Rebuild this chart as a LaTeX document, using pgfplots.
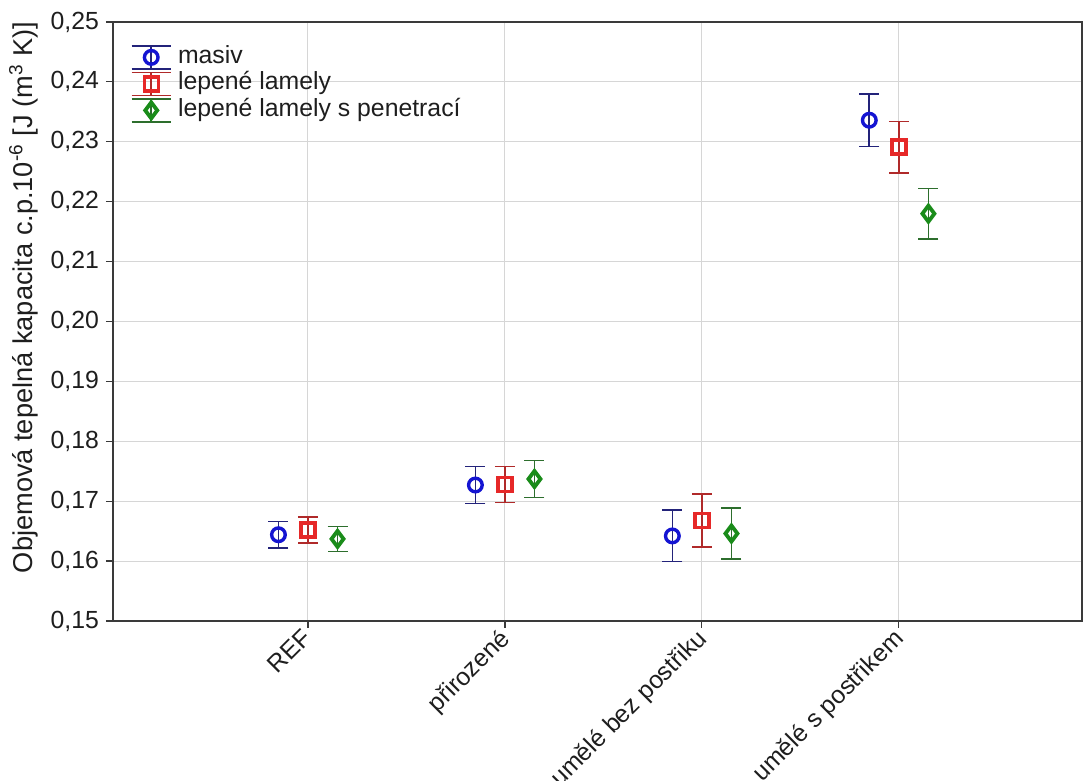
\documentclass[border=0pt]{standalone}
\usepackage{pgfplots}
\pgfplotsset{compat=1.18}
\usetikzlibrary{calc}
\usepackage{fontspec}
\setmainfont{Liberation Sans}
\definecolor{mblue}{HTML}{1414D2}
\definecolor{eblue}{HTML}{23237A}
\definecolor{mred}{HTML}{E62828}
\definecolor{ered}{HTML}{B02A2A}
\definecolor{mgreen}{HTML}{1A8C1A}
\definecolor{egreen}{HTML}{2D6E2D}
\definecolor{gridgray}{HTML}{D6D6D6}
\definecolor{axgray}{HTML}{3A3A3A}
\definecolor{txt}{HTML}{1E1E1E}
\pgfplotsset{
  errleg/.style={legend image code/.code={
     \draw[#1, line width=0.8pt] (0pt,-5.75pt) -- (0pt,5.75pt)
        (-9.75pt,5.75pt) -- (9.75pt,5.75pt)
        (-9.75pt,-5.75pt) -- (9.75pt,-5.75pt);
     \draw[##1] plot coordinates {(0pt,0pt)};
  }}
}
\begin{document}
\begin{tikzpicture}
\begin{axis}[name=ax, scale only axis, width=484.5pt, height=299.5pt,
  xmin=-0.99, xmax=3.93, ymin=0.15, ymax=0.25,
  xtick={0,1,2,3},
  xticklabels={REF, přirozené, umělé bez postřiku, umělé s postřikem},
  ytick={0.15,0.16,0.17,0.18,0.19,0.20,0.21,0.22,0.23,0.24,0.25},
  scaled y ticks=false,
  grid=major, grid style={color=gridgray, line width=0.5pt},
  axis line style={color=axgray, line width=0.8pt},
  tick style={color=axgray, line width=0.6pt},
  tick align=outside, major tick length=3.5pt,
  xtick pos=bottom, ytick pos=left,
  /pgf/number format/assume math mode=true,
  yticklabel style={/pgf/number format/.cd, use comma, fixed, fixed zerofill, precision=2, /tikz/.cd, font=\fontsize{12.4}{14}\selectfont, text=txt},
  xticklabel style={xshift=-3.5pt, yshift=2pt, rotate=45, anchor=north east, font=\fontsize{12.4}{14}\selectfont, text=txt, inner sep=1pt},
  ylabel={Objemová tepelná kapacita c.p.10\textsuperscript{-6} [J (m\textsuperscript{3} K)]},
  ylabel style={at={(axis description cs:-0.092,0.54)}, anchor=center, font=\fontsize{13.6}{16}\selectfont, text=txt},
  legend style={at={(axis description cs:0.0181,0.9633)}, anchor=north west, draw=none, fill=none, inner sep=0pt, font=\fontsize{12.4}{14}\selectfont, text=txt, row sep=0.25pt,
    nodes={inner xsep=3.25pt, inner ysep=0.5pt, text height=9pt, text depth=3pt}},
  legend cell align=left,
]
\addplot[only marks, color=mblue, mark=o, mark size=3.4pt, mark options={line width=1.7pt}, errleg=eblue,
  error bars/.cd, y dir=both, y explicit,
  error bar style={color=eblue, line width=0.8pt},
  error mark options={rotate=90, color=eblue, mark size=5pt, line width=0.8pt}]
coordinates {
 (-0.15,0.1644) +- (0,0.0022)
 (0.85,0.1727) +- (0,0.0031)
 (1.85,0.1642) +- (0,0.0043)
 (2.85,0.2336) +- (0,0.0044)
};
\addlegendentry{masiv}
\addplot[only marks, color=mred, mark=square, mark size=3.5pt, mark options={line width=1.7pt}, errleg=ered,
  error bars/.cd, y dir=both, y explicit,
  error bar style={color=ered, line width=0.8pt},
  error mark options={rotate=90, color=ered, mark size=5pt, line width=0.8pt}]
coordinates {
 (0,0.1652) +- (0,0.0022)
 (1,0.1728) +- (0,0.0030)
 (2,0.1668) +- (0,0.0044)
 (3,0.2291) +- (0,0.0043)
};
\addlegendentry{lepené lamely}
\addplot[only marks, color=mgreen, mark=diamond, mark size=4pt, mark options={line width=1.9pt}, errleg=egreen,
  error bars/.cd, y dir=both, y explicit,
  error bar style={color=egreen, line width=0.8pt},
  error mark options={rotate=90, color=egreen, mark size=5pt, line width=0.8pt}]
coordinates {
 (0.15,0.1637) +- (0,0.0021)
 (1.15,0.1737) +- (0,0.0031)
 (2.15,0.1646) +- (0,0.0043)
 (3.15,0.2180) +- (0,0.0042)
};
\addlegendentry{lepené lamely s penetrací}
\end{axis}
\pgfresetboundingbox
\path ($(ax.south west)+(-56.5pt,-80pt)$) rectangle ($(ax.north east)+(0.5pt,11pt)$);
\end{tikzpicture}
\end{document}
